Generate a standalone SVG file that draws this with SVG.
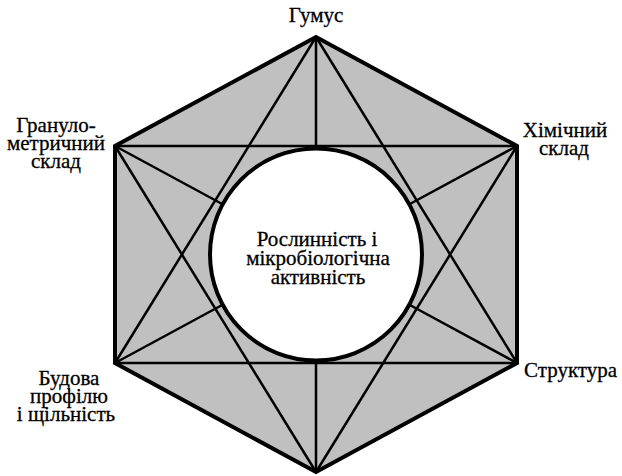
<svg xmlns="http://www.w3.org/2000/svg" width="622" height="476" viewBox="0 0 622 476">
<style>
.hex{fill:#c0c0c0;stroke:#000;stroke-width:4;stroke-linejoin:miter}
.ln{stroke:#000;stroke-width:2.5;fill:none}
.circ{fill:#fff;stroke:#000;stroke-width:4}
.t{font-family:'Liberation Serif','Times New Roman',serif;font-size:21px;fill:#000;stroke:#000;stroke-width:0.3}
.m{text-anchor:middle}
</style>
<rect width="622" height="476" fill="#fff"/>
<polygon class="hex" points="316,37 517,146 517,363 316,472 115,363 115,146"/>
<g id="connectors">
<line class="ln" x1="115" y1="146" x2="517" y2="146"/>
<line class="ln" x1="115" y1="363" x2="517" y2="363"/>
<line class="ln" x1="316" y1="37" x2="115" y2="363"/>
<line class="ln" x1="316" y1="37" x2="517" y2="363"/>
<line class="ln" x1="316" y1="472" x2="115" y2="146"/>
<line class="ln" x1="316" y1="472" x2="517" y2="146"/>
<line class="ln" x1="316" y1="37" x2="316" y2="150"/>
<line class="ln" x1="316" y1="472" x2="316" y2="359"/>
<line class="ln" x1="115" y1="146" x2="224" y2="205"/>
<line class="ln" x1="517" y1="146" x2="408" y2="205"/>
<line class="ln" x1="115" y1="363" x2="224" y2="304"/>
<line class="ln" x1="517" y1="363" x2="408" y2="304"/>
</g>
<g id="center">
<circle class="circ" cx="316" cy="254.5" r="106"/>
<text class="t m" x="317" y="246">Рослинність і</text>
<text class="t m" x="318" y="265">мікробіологічна</text>
<text class="t m" x="318" y="284">активність</text>
</g>
<g id="humus">
<text class="t m" x="316" y="22">Гумус</text>
</g>
<g id="chem">
<text class="t m" x="565" y="137">Хімічний</text>
<text class="t m" x="564" y="155">склад</text>
</g>
<g id="granulo">
<text class="t m" x="56" y="132">Грануло-</text>
<text class="t m" x="56" y="150">метричний</text>
<text class="t m" x="56" y="168">склад</text>
</g>
<g id="structure">
<text class="t" x="524" y="377">Структура</text>
</g>
<g id="profile">
<text class="t m" x="69" y="385">Будова</text>
<text class="t m" x="69" y="403">профілю</text>
<text class="t m" x="66" y="421">і щільність</text>
</g>
</svg>
